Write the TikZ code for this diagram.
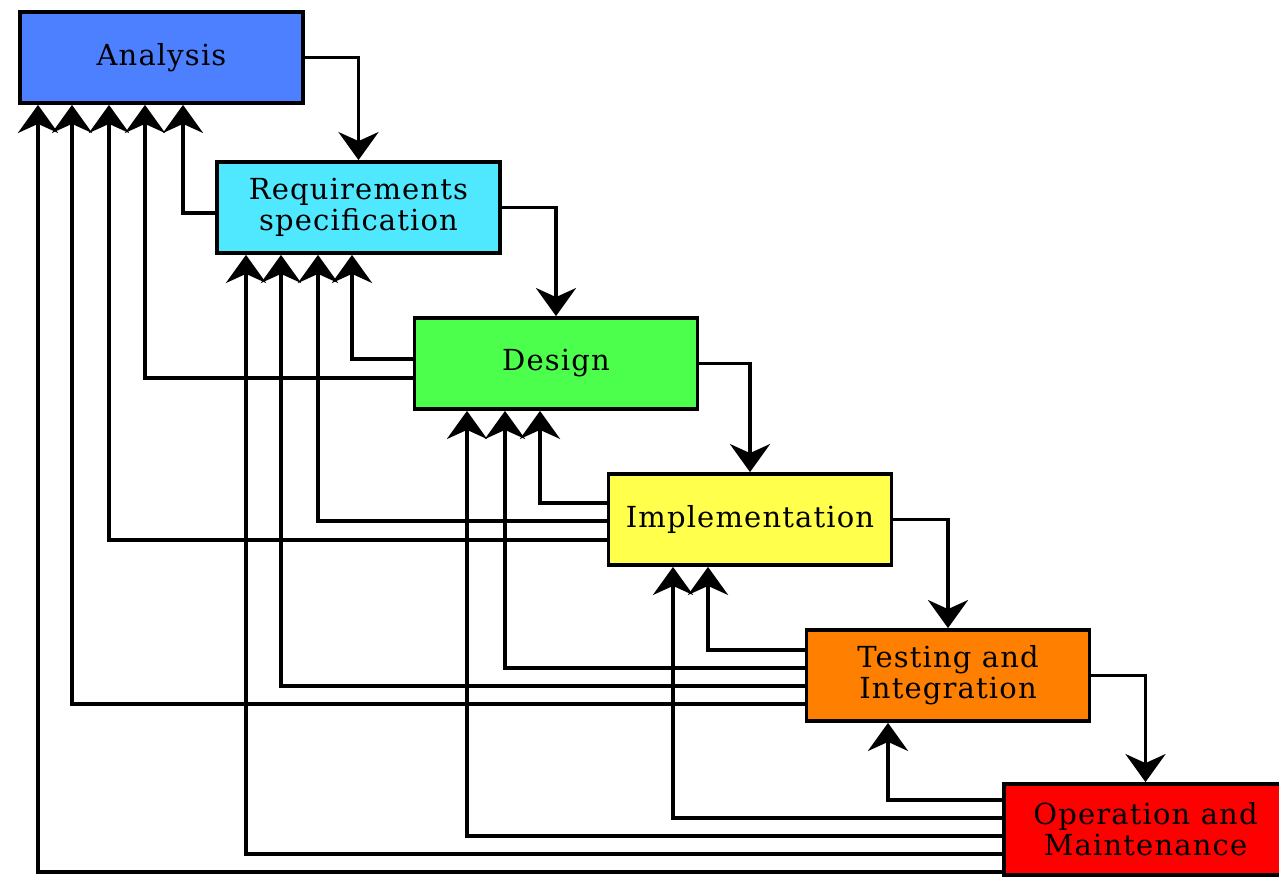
\documentclass[tikz,border=0pt]{standalone}
\usepackage{fontspec}
\setmainfont[LetterSpace=4]{DejaVu Serif}
\usetikzlibrary{arrows.meta}
\begin{document}
\begin{tikzpicture}[x=1pt,y=-1pt,
  box/.style={draw=black, line width=3.8pt, minimum width=283pt, minimum height=91pt,
    inner sep=0pt, align=center, font=\fontsize{29}{31}\selectfont},
  conn/.style={line width=3.8pt, -{Stealth[length=28pt,width=40pt,inset=9pt]}},
]
\definecolor{cana}{HTML}{4C80FF}
\definecolor{creq}{HTML}{50E8FF}
\definecolor{cdes}{HTML}{4CFF4C}
\definecolor{cimp}{HTML}{FFFF4C}
\definecolor{ctst}{HTML}{FF8000}
\definecolor{cop}{HTML}{FF0000}
\useasboundingbox (0,0) rectangle (1279,877);

\node[box, fill=cana] (an) at (161.5,57.5) {Analysis};
\node[box, fill=creq] (rq) at (358.5,207.5) {Requirements\\specification};
\node[box, fill=cdes] (de) at (556,363.5) {Design};
\node[box, fill=cimp] (im) at (750,519.5) {Implementation};
\node[box, fill=ctst] (te) at (948,675.5) {Testing and\\Integration};
\node[box, fill=cop]  (op) at (1145.5,829.5) {Operation and\\Maintenance};

% forward arrows
\draw[conn] (an.east) -| (rq.north);
\draw[conn] (rq.east) -| (de.north);
\draw[conn] (de.east) -| (im.north);
\draw[conn] (im.east) -| (te.north);
\draw[conn] (te.east) -| (op.north);

% feedback from requirements
\draw[conn] (rq.west |- 0,213) -| (an.south -| 183,0);
% feedback from design
\draw[conn] (de.west |- 0,359) -| (rq.south -| 352,0);
\draw[conn] (de.west |- 0,378) -| (an.south -| 145,0);
% feedback from implementation
\draw[conn] (im.west |- 0,503) -| (de.south -| 540,0);
\draw[conn] (im.west |- 0,521) -| (rq.south -| 318,0);
\draw[conn] (im.west |- 0,540) -| (an.south -| 109,0);
% feedback from testing
\draw[conn] (te.west |- 0,650) -| (im.south -| 708,0);
\draw[conn] (te.west |- 0,668) -| (de.south -| 505,0);
\draw[conn] (te.west |- 0,686) -| (rq.south -| 281,0);
\draw[conn] (te.west |- 0,704) -| (an.south -| 72,0);
% feedback from operation
\draw[conn] (op.west |- 0,800) -| (te.south -| 888,0);
\draw[conn] (op.west |- 0,818) -| (im.south -| 673,0);
\draw[conn] (op.west |- 0,836) -| (de.south -| 467,0);
\draw[conn] (op.west |- 0,854) -| (rq.south -| 246,0);
\draw[conn] (op.west |- 0,872) -| (an.south -| 38,0);
\end{tikzpicture}
\end{document}
